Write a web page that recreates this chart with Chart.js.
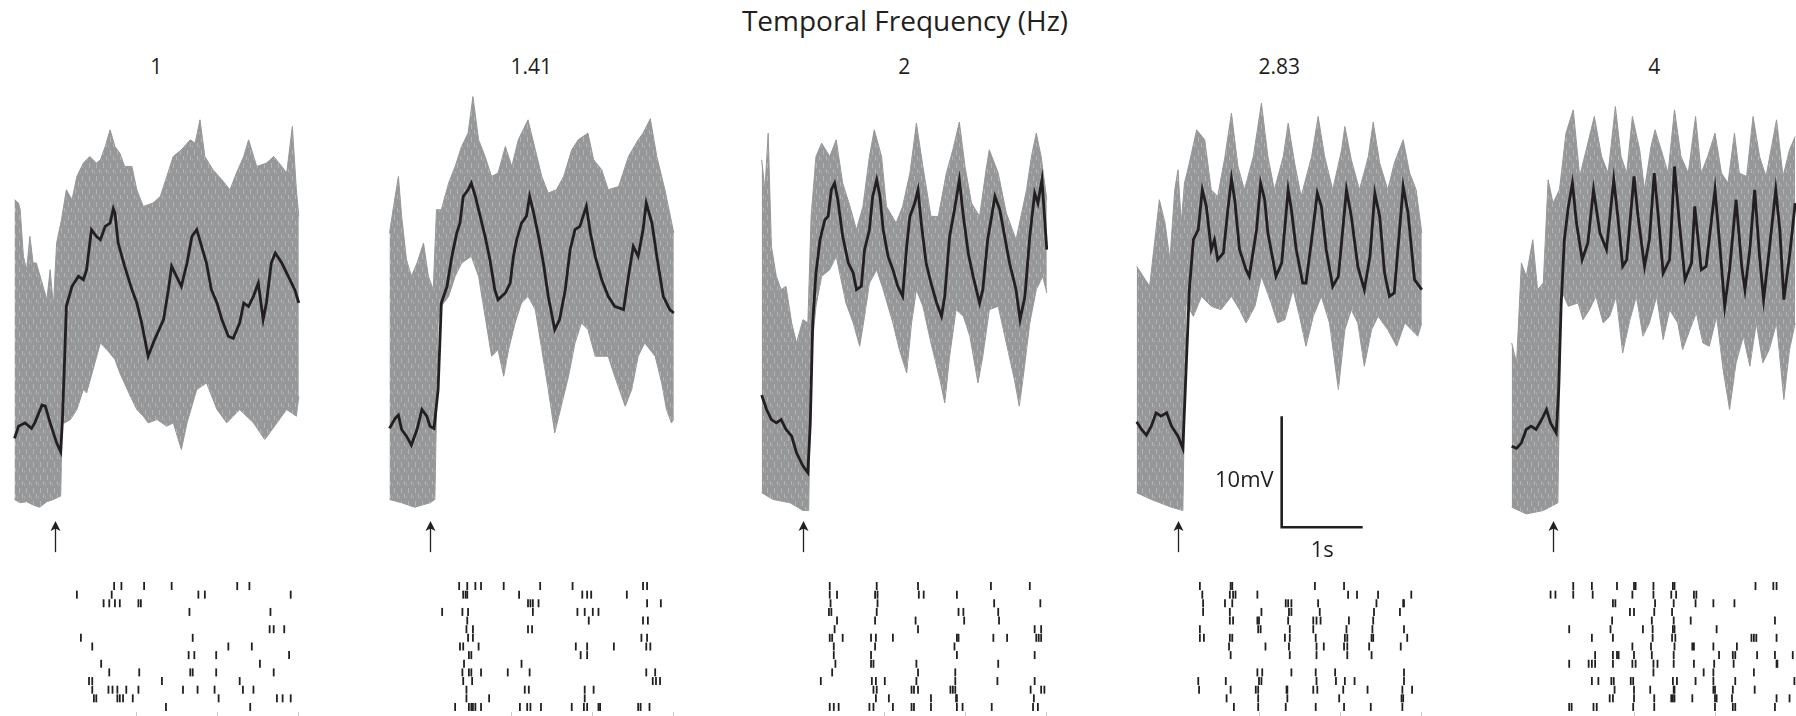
<!DOCTYPE html>
<html>
<head>
<meta charset="utf-8">
<script src="https://cdn.jsdelivr.net/npm/chart.js@4.4.1/dist/chart.umd.min.js"></script>
<style>
  html, body { margin: 0; padding: 0; background: #fff; }
  #fig { position: relative; width: 1796px; height: 716px; overflow: hidden; font-family: "Open Sans", sans-serif; color: #231f20; }
  #fig canvas { position: absolute; }
  .title { position: absolute; top: 4px; left: 0; width: 1810px; text-align: center; font-size: 28px; line-height: 32px; }
  .freq { position: absolute; top: 52px; width: 120px; margin-left: -60px; text-align: center; font-size: 21px; line-height: 28px; }
</style>
</head>
<body>
<div id="fig">
  <div class="title">Temporal Frequency (Hz)</div>
</div>
<script>
// stimulus temporal frequencies (Hz), one column each
const freqLabels = ["1", "1.41", "2", "2.83", "4"];

// mean membrane potential, [time s, mV above resting floor]
const mean1 = [[-0.50,6.0],[-0.45,7.1],[-0.37,7.4],[-0.29,6.9],[-0.25,7.4],[-0.16,9.0],[-0.12,8.9],[-0.06,7.4],[0.02,5.6],[0.07,4.8],[0.09,7.4],[0.12,13.4],[0.14,17.9],[0.21,19.7],[0.29,20.6],[0.35,20.3],[0.39,21.2],[0.45,24.8],[0.51,24.2],[0.56,23.9],[0.62,25.1],[0.68,25.4],[0.72,26.7],[0.74,26.3],[0.78,23.6],[0.86,21.5],[0.95,19.4],[1.01,18.2],[1.07,16.4],[1.15,13.4],[1.23,14.9],[1.34,16.7],[1.40,19.4],[1.44,21.5],[1.50,20.6],[1.56,19.7],[1.63,21.8],[1.69,24.2],[1.75,24.8],[1.81,23.3],[1.87,21.8],[1.93,19.4],[2.00,18.2],[2.06,16.7],[2.14,15.2],[2.20,15.0],[2.28,16.4],[2.33,18.2],[2.39,17.9],[2.45,18.8],[2.51,20.0],[2.57,16.7],[2.61,18.2],[2.67,21.8],[2.72,22.7],[2.80,21.8],[2.90,20.3],[2.96,19.4],[3.01,18.2]];
const mean2 = [[-0.50,6.9],[-0.43,7.8],[-0.39,8.1],[-0.35,6.8],[-0.29,6.2],[-0.23,5.4],[-0.16,6.8],[-0.10,8.6],[-0.04,8.0],[0.00,7.1],[0.05,6.9],[0.10,10.4],[0.14,18.2],[0.21,19.7],[0.27,22.4],[0.33,24.5],[0.37,25.4],[0.41,27.8],[0.47,28.4],[0.51,29.0],[0.56,27.8],[0.62,26.0],[0.68,24.2],[0.74,22.1],[0.80,19.4],[0.84,18.5],[0.93,19.1],[0.99,20.0],[1.03,22.4],[1.07,23.9],[1.13,25.4],[1.19,26.0],[1.23,27.8],[1.28,26.3],[1.34,24.2],[1.40,21.8],[1.46,18.8],[1.54,15.8],[1.60,16.7],[1.67,19.4],[1.73,23.0],[1.79,24.8],[1.85,25.1],[1.93,26.9],[1.98,24.5],[2.04,22.4],[2.12,20.3],[2.20,18.8],[2.28,17.9],[2.39,17.6],[2.45,20.6],[2.51,23.3],[2.57,22.4],[2.63,24.8],[2.67,27.2],[2.74,25.4],[2.80,22.4],[2.88,18.8],[2.96,17.6],[3.01,17.3]];
const mean3 = [[-0.51,9.9],[-0.45,8.6],[-0.39,7.7],[-0.33,7.4],[-0.27,7.7],[-0.21,6.8],[-0.14,6.2],[-0.08,4.7],[0.00,3.5],[0.06,2.9],[0.09,7.4],[0.12,16.4],[0.16,20.9],[0.21,23.9],[0.27,25.7],[0.31,26.0],[0.35,28.4],[0.39,29.0],[0.43,27.5],[0.49,24.2],[0.56,21.8],[0.62,20.9],[0.66,19.4],[0.72,19.7],[0.76,23.0],[0.82,24.8],[0.86,27.8],[0.91,29.3],[0.95,27.8],[0.99,24.8],[1.05,22.4],[1.11,21.2],[1.17,19.7],[1.23,18.8],[1.28,23.3],[1.32,26.0],[1.38,27.2],[1.42,28.4],[1.46,25.4],[1.52,21.8],[1.58,20.0],[1.65,18.2],[1.71,17.0],[1.75,18.8],[1.81,24.2],[1.87,26.6],[1.93,29.3],[1.98,26.0],[2.04,22.7],[2.10,20.6],[2.18,18.2],[2.22,19.4],[2.28,23.9],[2.37,27.8],[2.43,26.6],[2.49,24.2],[2.55,21.8],[2.63,19.4],[2.68,16.7],[2.74,18.8],[2.80,24.2],[2.86,28.1],[2.90,27.2],[2.95,29.3],[3.01,23.0]];
const mean4 = [[-0.51,7.5],[-0.45,6.8],[-0.39,6.3],[-0.33,7.1],[-0.27,8.3],[-0.21,8.0],[-0.14,8.3],[-0.08,7.1],[0.00,6.2],[0.06,5.1],[0.09,10.4],[0.14,19.4],[0.19,23.9],[0.25,24.8],[0.30,28.4],[0.35,26.9],[0.41,23.0],[0.45,23.9],[0.49,22.1],[0.56,22.7],[0.62,26.9],[0.66,29.4],[0.70,27.5],[0.76,23.0],[0.84,21.2],[0.88,20.6],[0.97,24.8],[1.02,29.0],[1.07,27.5],[1.11,24.5],[1.21,20.6],[1.28,21.8],[1.36,28.4],[1.40,26.6],[1.46,23.0],[1.54,20.0],[1.58,20.0],[1.65,23.9],[1.72,28.1],[1.77,26.9],[1.83,23.0],[1.91,19.7],[1.98,20.6],[2.08,28.4],[2.14,26.0],[2.22,21.5],[2.30,19.4],[2.37,22.4],[2.43,28.1],[2.49,26.0],[2.55,20.9],[2.61,18.8],[2.67,19.1],[2.78,28.7],[2.84,26.3],[2.92,20.3],[2.98,19.7],[3.01,19.4]];
const mean5 = [[-0.51,5.3],[-0.45,5.1],[-0.39,5.6],[-0.33,6.8],[-0.27,7.1],[-0.21,6.8],[-0.14,7.7],[-0.08,8.6],[-0.03,7.4],[0.04,6.5],[0.07,10.4],[0.10,17.9],[0.14,23.9],[0.19,26.9],[0.24,29.0],[0.29,25.4],[0.36,22.1],[0.43,23.6],[0.50,28.4],[0.58,24.5],[0.66,23.0],[0.75,29.3],[0.80,26.0],[0.86,21.5],[0.91,22.1],[1.00,29.6],[1.05,26.0],[1.13,21.5],[1.19,23.9],[1.25,29.9],[1.30,26.0],[1.36,20.9],[1.44,22.1],[1.50,30.5],[1.56,25.4],[1.63,20.3],[1.71,21.8],[1.75,26.9],[1.83,21.2],[1.89,21.5],[2.00,28.4],[2.06,23.3],[2.12,17.9],[2.18,21.2],[2.26,27.5],[2.33,21.5],[2.37,19.4],[2.43,23.0],[2.49,28.4],[2.55,22.4],[2.60,18.5],[2.67,23.0],[2.75,28.4],[2.80,24.8],[2.85,18.5],[2.92,22.4],[2.99,27.2]];

// upper edge of the single-trial traces
const upper1 = [[-0.50,27.5],[-0.45,27.2],[-0.43,26.6],[-0.39,22.4],[-0.35,21.2],[-0.31,24.2],[-0.27,21.8],[-0.23,21.8],[-0.16,20.0],[-0.10,18.5],[-0.06,21.2],[-0.02,17.9],[0.02,23.6],[0.08,25.7],[0.14,28.4],[0.21,27.5],[0.27,29.6],[0.35,30.8],[0.43,31.4],[0.51,30.8],[0.56,31.1],[0.62,32.3],[0.68,33.8],[0.74,32.3],[0.80,31.7],[0.86,30.5],[0.95,30.5],[1.01,28.4],[1.09,26.9],[1.21,27.2],[1.30,27.8],[1.38,29.6],[1.46,31.4],[1.56,32.0],[1.67,32.9],[1.73,32.6],[1.79,34.7],[1.85,31.4],[1.95,30.2],[2.06,29.3],[2.16,28.4],[2.24,29.9],[2.33,31.4],[2.39,32.9],[2.49,30.5],[2.61,30.8],[2.70,31.4],[2.80,30.5],[2.86,29.9],[2.93,34.1],[2.98,28.4],[3.01,26.0]];
const upper2 = [[-0.50,24.5],[-0.45,26.9],[-0.39,29.6],[-0.35,26.0],[-0.29,22.1],[-0.23,20.6],[-0.16,21.8],[-0.08,23.6],[-0.02,20.6],[0.04,19.4],[0.08,26.6],[0.14,26.6],[0.23,29.0],[0.31,30.5],[0.39,32.3],[0.47,33.5],[0.53,36.8],[0.60,32.9],[0.68,31.4],[0.76,29.6],[0.84,29.9],[0.93,32.3],[1.01,30.5],[1.09,32.9],[1.21,34.7],[1.30,32.0],[1.38,29.6],[1.46,28.1],[1.56,28.4],[1.65,29.6],[1.75,32.0],[1.83,32.9],[1.95,33.5],[2.02,31.1],[2.12,30.2],[2.20,28.4],[2.33,28.7],[2.45,31.4],[2.57,32.9],[2.63,33.5],[2.72,34.8],[2.80,31.4],[2.90,28.4],[3.01,24.5]];
const upper3 = [[-0.51,31.1],[-0.47,28.4],[-0.43,33.5],[-0.39,23.3],[-0.33,20.6],[-0.27,19.4],[-0.21,19.7],[-0.14,16.4],[-0.08,14.6],[0.00,16.7],[0.06,16.4],[0.10,26.0],[0.16,31.4],[0.23,32.6],[0.33,31.4],[0.41,32.9],[0.49,29.0],[0.58,26.9],[0.66,24.8],[0.74,26.9],[0.82,31.4],[0.88,33.8],[0.97,31.4],[1.03,26.9],[1.15,25.4],[1.23,26.9],[1.32,29.9],[1.40,34.4],[1.48,30.5],[1.58,26.0],[1.67,26.0],[1.77,29.9],[1.85,32.0],[1.93,34.5],[2.00,30.5],[2.08,27.2],[2.18,26.0],[2.26,30.2],[2.30,32.0],[2.41,29.9],[2.51,26.3],[2.63,23.9],[2.76,28.4],[2.82,31.4],[2.88,33.5],[2.94,31.4],[3.01,27.5]];
const upper4 = [[-0.51,21.5],[-0.43,20.6],[-0.35,19.7],[-0.29,23.6],[-0.23,27.5],[-0.16,25.4],[-0.10,22.1],[-0.04,28.4],[0.00,30.2],[0.04,25.4],[0.08,29.0],[0.14,30.8],[0.23,33.8],[0.33,32.9],[0.41,28.4],[0.49,27.8],[0.58,31.4],[0.66,35.3],[0.74,30.5],[0.82,28.4],[0.93,31.4],[1.03,36.2],[1.11,31.4],[1.19,28.4],[1.30,31.4],[1.36,34.4],[1.44,30.8],[1.52,27.8],[1.65,31.4],[1.73,35.0],[1.81,31.4],[1.91,28.4],[2.02,32.0],[2.06,34.1],[2.14,31.1],[2.24,28.4],[2.35,31.4],[2.41,34.5],[2.49,30.8],[2.59,28.4],[2.67,30.8],[2.78,32.9],[2.86,29.9],[2.94,28.4],[3.01,24.5]];
const upper5 = [[-0.51,14.6],[-0.45,12.8],[-0.39,21.8],[-0.33,20.6],[-0.25,23.9],[-0.19,19.4],[-0.12,20.0],[-0.06,29.3],[0.00,27.2],[0.08,28.4],[0.16,33.5],[0.25,35.6],[0.33,29.6],[0.41,32.0],[0.51,35.0],[0.60,31.4],[0.68,29.9],[0.77,35.9],[0.84,31.4],[0.91,29.9],[0.98,35.0],[1.07,32.0],[1.13,28.4],[1.21,32.3],[1.26,33.8],[1.36,31.4],[1.42,29.9],[1.50,35.6],[1.58,31.4],[1.67,29.9],[1.76,35.0],[1.83,29.9],[1.91,31.4],[2.00,33.5],[2.08,29.9],[2.16,29.0],[2.24,33.5],[2.30,29.9],[2.39,29.6],[2.47,35.0],[2.55,31.4],[2.63,29.6],[2.76,34.7],[2.84,29.6],[2.92,32.0],[2.99,33.2]];

// lower edge of the single-trial traces
const lower1 = [[-0.50,0.5],[-0.43,0.2],[-0.35,0.3],[-0.27,0.0],[-0.19,-0.2],[-0.10,0.3],[-0.02,0.5],[0.07,0.8],[0.09,7.4],[0.12,7.4],[0.19,7.7],[0.27,8.6],[0.35,10.4],[0.39,10.1],[0.47,12.2],[0.56,14.6],[0.64,14.0],[0.74,13.1],[0.80,11.9],[0.93,9.8],[1.01,8.6],[1.09,8.0],[1.15,7.4],[1.26,7.7],[1.38,7.1],[1.46,7.4],[1.56,5.0],[1.63,7.4],[1.75,10.4],[1.87,11.0],[2.00,8.6],[2.12,7.4],[2.28,8.6],[2.45,7.4],[2.59,5.9],[2.74,7.4],[2.86,8.6],[2.98,8.0],[3.01,9.8]];
const lower2 = [[-0.50,0.5],[-0.35,0.2],[-0.19,-0.2],[0.00,0.2],[0.06,0.5],[0.10,16.4],[0.14,17.9],[0.23,18.8],[0.31,20.6],[0.39,21.8],[0.51,22.4],[0.60,20.6],[0.68,17.0],[0.76,13.4],[0.84,14.0],[0.91,11.6],[0.97,14.0],[1.05,16.4],[1.13,18.2],[1.21,18.8],[1.30,17.6],[1.38,14.0],[1.46,10.4],[1.54,6.5],[1.63,9.2],[1.71,11.6],[1.79,14.6],[1.87,16.4],[1.95,15.8],[2.04,13.4],[2.20,13.4],[2.28,11.6],[2.41,8.9],[2.49,10.4],[2.57,13.4],[2.65,14.6],[2.78,13.4],[2.86,11.0],[2.92,8.6],[2.98,7.4],[3.01,7.7]];
const lower3 = [[-0.51,1.1],[-0.37,0.5],[-0.16,0.2],[0.00,-0.5],[0.07,-0.5],[0.10,13.4],[0.16,17.9],[0.23,20.6],[0.33,21.2],[0.41,22.4],[0.53,18.2],[0.62,16.4],[0.70,14.3],[0.76,17.0],[0.82,20.0],[0.91,21.2],[0.99,19.4],[1.11,16.4],[1.19,14.0],[1.28,11.9],[1.34,16.4],[1.40,19.4],[1.48,17.9],[1.58,14.6],[1.69,11.3],[1.75,9.2],[1.81,13.4],[1.89,17.6],[1.98,17.0],[2.06,15.2],[2.16,11.0],[2.22,13.4],[2.30,17.6],[2.41,17.9],[2.51,14.6],[2.61,11.3],[2.67,8.9],[2.72,11.6],[2.80,16.4],[2.88,19.4],[2.96,20.6],[3.01,19.1]];
const lower4 = [[-0.51,1.1],[-0.33,0.5],[-0.08,-0.2],[0.06,-0.5],[0.10,18.2],[0.19,17.0],[0.29,18.8],[0.41,17.9],[0.53,17.6],[0.66,18.8],[0.76,17.6],[0.84,16.4],[0.95,17.9],[1.03,20.6],[1.15,18.2],[1.23,16.4],[1.32,16.7],[1.42,19.4],[1.50,17.0],[1.58,14.3],[1.67,17.0],[1.77,18.8],[1.87,16.4],[1.98,10.4],[2.06,15.8],[2.14,17.6],[2.22,16.4],[2.30,12.5],[2.39,15.8],[2.47,17.0],[2.59,15.8],[2.70,14.3],[2.80,16.4],[2.88,15.8],[2.96,15.2],[3.01,16.4]];
const lower5 = [[-0.51,-0.2],[-0.33,-0.8],[-0.12,-0.5],[0.06,0.2],[0.10,19.4],[0.19,17.9],[0.31,18.2],[0.37,16.7],[0.45,17.6],[0.53,18.8],[0.62,16.4],[0.70,17.0],[0.78,18.8],[0.86,13.7],[0.95,16.7],[1.03,18.8],[1.11,15.2],[1.19,16.4],[1.28,18.8],[1.36,14.9],[1.44,17.6],[1.54,16.4],[1.60,14.0],[1.69,15.8],[1.77,17.3],[1.85,14.6],[1.93,14.3],[2.02,17.0],[2.10,12.2],[2.18,8.6],[2.26,12.8],[2.35,15.2],[2.43,12.5],[2.51,16.4],[2.59,12.8],[2.67,14.0],[2.76,16.4],[2.85,9.5],[2.92,14.0],[2.99,16.4]];

// spike times (s) per trial, trial 1 on top
const spikes1 = [
  [0.73,0.82,1.10,1.44,2.25,2.40],
  [0.27,0.70,1.77,1.85,2.91],
  [0.60,0.67,0.74,0.80,1.03,1.06],
  [1.66,2.66],
  [],
  [2.65,2.70,2.83],
  [0.32,1.70],
  [0.46,2.14,2.43],
  [1.65,1.72,1.99,2.89],
  [0.57,2.53],
  [0.67,1.04,1.67,1.70,1.99,2.70],
  [0.42,0.46,1.32,2.28],
  [0.46,0.66,0.71,0.77,0.88,1.03,1.58,1.76,1.97,2.32,2.45],
  [0.48,0.51,0.77,0.80,0.84,0.96,2.02,2.74,2.81,2.91],
  [1.37,2.41]
];
const spikes2 = [
  [0.36,0.46,0.56,0.63,0.91,1.36,1.76,2.63,2.68],
  [0.41,0.44,0.46,1.10,1.88,1.94,1.99,2.43],
  [1.21,1.24,1.27,1.34,2.68,2.85],
  [0.15,0.40,0.47,1.27,1.82,1.91,2.01,2.08],
  [0.46,1.96,2.63,2.69],
  [0.45,0.53,1.21,1.26],
  [0.47,0.53,2.61,2.68],
  [0.37,0.41,0.60,1.80,1.94,2.27,2.67,2.72],
  [0.48,0.51,1.86,1.94],
  [0.42,1.13],
  [0.40,0.48,0.51,0.63,0.96,1.23,2.67,2.78],
  [0.41,0.52,2.75,2.79,2.84],
  [0.45,1.17,1.22,1.91,2.02],
  [0.45,0.73,1.91],
  [0.31,0.48,0.51,0.53,0.56,0.63,1.11,1.20,1.24,1.37,1.75,1.90,1.94,2.08,2.10,2.57,2.60,2.71]
];
const spikes3 = [
  [0.33,0.91,1.42,2.32,2.80],
  [0.33,0.42,0.89,0.92,1.43,1.49,1.90],
  [0.34,0.92,2.36,2.93],
  [0.32,0.35,0.91,1.92,1.98,2.41],
  [0.42,0.89,1.39,1.99,2.42],
  [0.39,1.42,2.86,2.94],
  [0.33,0.36,0.49,0.84,0.90,1.11,1.90,1.92,2.35,2.52,2.88,2.91,2.94],
  [0.38,0.89,1.87],
  [0.38,0.84,1.90,2.86],
  [0.40,0.84,0.87,1.40,2.41],
  [0.36,1.42,1.88],
  [0.22,0.85,0.90,1.01,1.40,1.88,2.40,2.86],
  [0.87,0.91,1.34,1.37,1.42,1.82,1.85,1.88,2.81,2.94,2.98],
  [0.90,1.06,1.58,1.89,1.90,2.85],
  [0.33,0.38,0.44,0.82,0.87,1.11,1.34,1.37,1.58,1.90,1.97,2.33,2.84,2.90]
];
const spikes4 = [
  [0.27,0.65,0.67,1.69,2.05],
  [0.30,0.64,0.68,0.71,0.98,2.10,2.21,2.47,2.88],
  [0.31,0.58,0.67,1.33,1.36,1.40,1.73,2.45,2.78,2.79],
  [0.31,0.64,1.03,1.37,1.40,1.75,2.42,2.74],
  [0.64,0.68,0.98,1.00,1.36,1.67,1.71,1.76,2.11,2.41],
  [0.27,0.99,1.02,1.38,1.67,2.08,2.40,2.79],
  [0.27,0.32,0.64,0.67,1.32,1.38,1.70,2.06,2.09,2.39,2.41,2.83],
  [0.63,1.08,1.37,1.71,1.80,2.05,2.09,2.36,2.75],
  [0.65,1.38,1.71,2.09,2.39],
  [],
  [0.98,1.04,1.40,1.70,1.94,2.79],
  [0.25,0.59,1.00,1.03,1.71,1.95,2.06,2.18,2.79],
  [0.26,0.65,0.96,0.99,1.34,1.35,1.67,1.72,2.04,2.34,2.77,2.89],
  [0.60,0.99,1.35,1.99,2.76,2.78],
  [0.69,0.99,1.33,1.70,2.05,2.38,2.77]
];
const spikes5 = [
  [0.25,0.48,0.79,1.00,1.02,1.24,1.48,1.50,2.50,2.72,2.76],
  [-0.03,0.03,0.25,0.49,0.98,1.24,1.46,1.52,1.74,1.77],
  [0.74,0.77,1.26,1.49,1.76,1.98,2.24],
  [0.95,1.00,1.25,1.47],
  [0.73,1.22,1.49,1.70,2.74],
  [0.20,0.71,1.11,1.23,1.48,1.50,2.02],
  [0.48,0.74,1.23,1.47,1.51,2.45,2.48,2.51,2.76],
  [0.98,1.21,1.50,1.72,1.74,1.98,2.27],
  [0.52,0.74,0.79,0.81,1.00,1.22,1.49,2.05,2.22,2.25,2.52,2.74,2.96],
  [0.20,0.44,0.48,0.52,0.74,0.98,1.02,1.24,1.29,1.49,1.74,1.99,2.23,2.76,2.77],
  [1.24,1.86,1.98,2.48],
  [0.48,0.56,0.72,0.75,0.96,0.99,1.48,1.53,1.76,1.98,2.25,2.98],
  [0.76,1.00,1.20,1.49,1.50,1.98,2.00,2.22,2.49],
  [0.70,0.74,1.00,1.25,1.46,1.48,1.50,1.72,2.00,2.02,2.21,2.76,2.92],
  [0.20,0.23,0.50,0.54,0.99,1.25,2.00,2.22,2.25,2.74]
];

// time ticks under the rasters (s)
const timeTicks = [1, 2, 3];

// scale bar: 1 s by 10 mV, drawn in the fourth column
const scaleBarSeconds = 1;
const scaleBarMillivolts = 10;

const INK = "#231f20";
const TRIAL_GREY = "#969799";

// page layout
const PX_PER_S = 81;
const PX_PER_MV = 11.1;
const ZERO_MV_Y = 505;          // page y of the 0 mV level
const CANVAS_TOP = 84;
const CANVAS_H = 632;
const CANVAS_W = 290;
const AXIS_TICK = 4;
const RASTER_TOP_Y = 586;       // page y of trial 1
const RASTER_ROW = 8.64;
const onsetX = [55, 430, 803, 1178, 1553];
const barAnchor = { t: 1.28, mv: -2.0 };

const panels = [
  { mean: mean1, upper: upper1, lower: lower1, spikes: spikes1 },
  { mean: mean2, upper: upper2, lower: lower2, spikes: spikes2 },
  { mean: mean3, upper: upper3, lower: lower3, spikes: spikes3 },
  { mean: mean4, upper: upper4, lower: lower4, spikes: spikes4, scaleBar: true },
  { mean: mean5, upper: upper5, lower: lower5, spikes: spikes5 }
];

const toXY = (pairs) => pairs.map(([t, v]) => ({ x: t, y: v }));
const spikePoints = (rows) => rows.flatMap((row, i) => row.map((t) => ({ x: t, y: i + 1 })));

// grey fill with thin light streaks, like many overlapping sweeps
const sweepTexture = (() => {
  const tile = document.createElement("canvas");
  tile.width = 7;
  tile.height = 13;
  const c = tile.getContext("2d");
  c.fillStyle = TRIAL_GREY;
  c.fillRect(0, 0, 7, 13);
  c.fillStyle = "#b3b4b6";
  c.fillRect(2, 1, 1, 5);
  c.fillRect(5, 7, 1, 4);
  c.fillStyle = "#a6a7a9";
  c.fillRect(0, 9, 1, 3);
  return c.createPattern(tile, "repeat");
})();

// stimulus onset arrow at t = 0
const onsetArrow = {
  id: "onsetArrow",
  afterDatasetsDraw(chart) {
    const { ctx, scales: { x, y } } = chart;
    const px = Math.round(x.getPixelForValue(0)) + 0.5;
    const tip = y.getPixelForValue(-1.45);
    const tail = y.getPixelForValue(-4.25);
    ctx.save();
    ctx.strokeStyle = INK;
    ctx.fillStyle = INK;
    ctx.lineWidth = 1.3;
    ctx.beginPath();
    ctx.moveTo(px, tip + 6);
    ctx.lineTo(px, tail);
    ctx.stroke();
    ctx.beginPath();
    ctx.moveTo(px, tip);
    ctx.lineTo(px + 5, tip + 10);
    ctx.lineTo(px, tip + 7.5);
    ctx.lineTo(px - 5, tip + 10);
    ctx.closePath();
    ctx.fill();
    ctx.restore();
  }
};

// labels of the scale bar
const scaleBarLabels = {
  id: "scaleBarLabels",
  afterDatasetsDraw(chart) {
    const meta = chart.data.datasets.findIndex((d) => d.label === "scale bar");
    if (meta < 0) return;
    const pts = chart.getDatasetMeta(meta).data;
    const corner = pts[1];
    const top = pts[2];
    const end = pts[0];
    const { ctx } = chart;
    ctx.save();
    ctx.fillStyle = INK;
    ctx.font = '22px "Open Sans"';
    ctx.textBaseline = "middle";
    ctx.textAlign = "right";
    ctx.fillText(`${scaleBarMillivolts}mV`, corner.x - 8, (corner.y + top.y) / 2 + 9);
    ctx.textAlign = "center";
    ctx.fillText(`${scaleBarSeconds}s`, (corner.x + end.x) / 2, corner.y + 24);
    ctx.restore();
  }
};

const fig = document.getElementById("fig");

panels.forEach((panel, i) => {
  const label = document.createElement("div");
  label.className = "freq";
  label.style.left = `${onsetX[i] + 1.25 * PX_PER_S}px`;
  label.textContent = freqLabels[i];
  fig.appendChild(label);

  const canvas = document.createElement("canvas");
  const left = Math.round(onsetX[i] - 45);
  canvas.width = CANVAS_W;
  canvas.height = CANVAS_H;
  canvas.style.left = `${left}px`;
  canvas.style.top = `${CANVAS_TOP}px`;
  fig.appendChild(canvas);

  const tMin = (left - onsetX[i]) / PX_PER_S;
  const tMax = tMin + CANVAS_W / PX_PER_S;
  const plotBottom = CANVAS_TOP + CANVAS_H - AXIS_TICK;
  const mvMax = (ZERO_MV_Y - CANVAS_TOP) / PX_PER_MV;
  const mvMin = (ZERO_MV_Y - plotBottom) / PX_PER_MV;
  const trialMin = 1 - (RASTER_TOP_Y - CANVAS_TOP) / RASTER_ROW;
  const trialMax = trialMin + (plotBottom - CANVAS_TOP) / RASTER_ROW;

  const datasets = [
    {
      label: "upper",
      data: toXY(panel.upper),
      borderColor: TRIAL_GREY,
      backgroundColor: sweepTexture,
      borderWidth: 1,
      pointRadius: 0,
      fill: "+1",
      order: 3
    },
    {
      label: "lower",
      data: toXY(panel.lower),
      borderColor: TRIAL_GREY,
      borderWidth: 1,
      pointRadius: 0,
      fill: false,
      order: 3
    },
    {
      label: "mean",
      data: toXY(panel.mean),
      borderColor: INK,
      borderWidth: 2.8,
      pointRadius: 0,
      fill: false,
      order: 1
    },
    {
      label: "spikes",
      type: "scatter",
      yAxisID: "trial",
      data: spikePoints(panel.spikes),
      showLine: false,
      pointStyle: "line",
      rotation: 90,
      pointRadius: 4,
      borderColor: INK,
      borderWidth: 1.8,
      order: 1
    }
  ];

  if (panel.scaleBar) {
    datasets.push({
      label: "scale bar",
      data: [
        { x: barAnchor.t + scaleBarSeconds, y: barAnchor.mv },
        { x: barAnchor.t, y: barAnchor.mv },
        { x: barAnchor.t, y: barAnchor.mv + scaleBarMillivolts }
      ],
      borderColor: INK,
      borderWidth: 2.6,
      borderCapStyle: "butt",
      borderJoinStyle: "miter",
      pointRadius: 0,
      fill: false,
      order: 0
    });
  }

  new Chart(canvas, {
    type: "line",
    data: { datasets },
    options: {
      responsive: false,
      animation: false,
      events: [],
      layout: { padding: 0, autoPadding: false },
      elements: { line: { tension: 0 } },
      plugins: { legend: { display: false }, tooltip: { enabled: false }, title: { display: false } },
      scales: {
        x: {
          type: "linear",
          min: tMin,
          max: tMax,
          border: { display: false },
          grid: { drawOnChartArea: false, drawTicks: true, tickLength: AXIS_TICK, color: "#c9c9c9", lineWidth: 1 },
          ticks: { display: false },
          afterBuildTicks: (scale) => { scale.ticks = timeTicks.map((value) => ({ value })); }
        },
        y: { type: "linear", display: false, min: mvMin, max: mvMax },
        trial: { type: "linear", display: false, reverse: true, min: trialMin, max: trialMax }
      }
    },
    plugins: [onsetArrow, scaleBarLabels]
  });
});
</script>
</body>
</html>
